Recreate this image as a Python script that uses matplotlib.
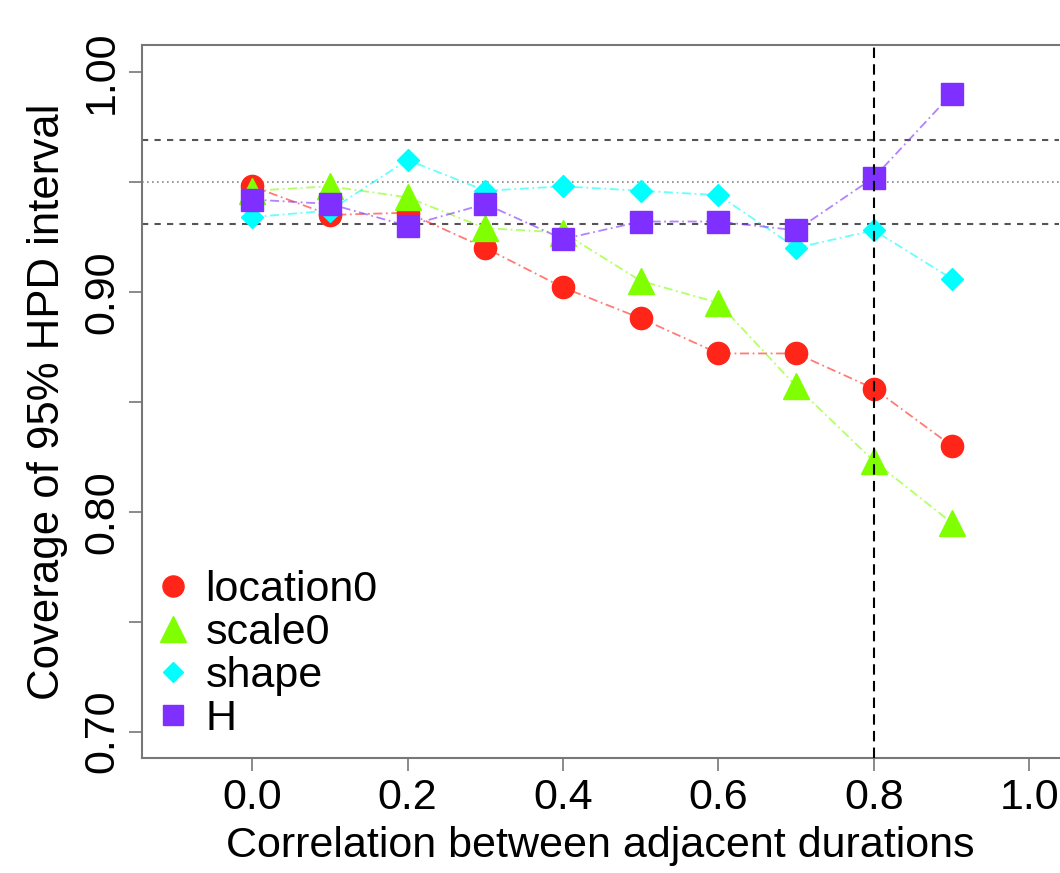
import numpy as np
import matplotlib
matplotlib.use('Agg')
from matplotlib import pyplot as plt
from matplotlib.lines import Line2D

plt.rcParams['font.family'] = ['Liberation Sans', 'DejaVu Sans']

# data
rho = [0.0, 0.1, 0.2, 0.3, 0.4, 0.5, 0.6, 0.7, 0.8, 0.9]
location0 = [0.948, 0.935, 0.936, 0.920, 0.902, 0.888, 0.872, 0.872, 0.856, 0.830]
scale0 = [0.946, 0.948, 0.943, 0.929, 0.927, 0.905, 0.895, 0.857, 0.823, 0.795]
shape = [0.934, 0.937, 0.960, 0.946, 0.948, 0.946, 0.944, 0.920, 0.928, 0.906]
H = [0.942, 0.940, 0.930, 0.940, 0.924, 0.932, 0.932, 0.928, 0.952, 0.990]

names = ['location0', 'scale0', 'shape', 'H']
cols = ['#FF2518', '#80FF00', '#00FFFF', '#7F2FFF']
marks = ['o', '^', 'D', 's']
msize = [16, 19, 11, 15.5]

nominal = 0.95
lo_band = 0.9309
hi_band = 0.9691
cut = 0.8

fig = plt.figure(figsize=(10.6, 8.73), dpi=100)
ax = fig.add_axes([0.134, 0.1317, 0.865, 0.8168])

ax.axhline(hi_band, color='#555555', ls=(0, (3, 3)), lw=1.5, zorder=1)
ax.axhline(lo_band, color='#555555', ls=(0, (3, 3)), lw=1.5, zorder=1)
ax.axhline(nominal, color='#888888', ls=(0, (1, 2)), lw=1.2, zorder=1)
ax.axvline(cut, color='black', ls=(0, (5, 3)), lw=1.5, zorder=5)

series = [location0, scale0, shape, H]
for s, c, m, ms in zip(series, cols, marks, msize):
    ax.plot(rho, s, color=c, ls=(0, (5, 2, 1, 2)), lw=1.3, alpha=0.6, zorder=2)
    ax.plot(rho, s, ls='none', marker=m, ms=ms, color=c, mec=c, zorder=3)

ax.set_xlim(-0.1415, 1.038)
ax.set_ylim(0.688, 1.0123)
ax.set_xticks([0.0, 0.2, 0.4, 0.6, 0.8, 1.0])
ax.set_xticklabels(['0.0', '0.2', '0.4', '0.6', '0.8', '1.0'])
ax.set_yticks([0.70, 0.75, 0.80, 0.85, 0.90, 0.95, 1.00])
ax.set_yticklabels(['0.70', '', '0.80', '', '0.90', '', '1.00'], rotation=90, va='center')
ax.tick_params(direction='out', length=9.5, width=1.2, color='#777777', labelsize=31, pad=5)
for sp in ax.spines.values():
    sp.set_color('#777777')
    sp.set_linewidth(1.5)
ax.spines['right'].set_visible(False)

ax.set_xlabel('Correlation between adjacent durations', fontsize=31, labelpad=6)
ax.set_ylabel('Coverage of 95% HPD interval', fontsize=31.5, labelpad=10)

handles = [Line2D([], [], ls='none', marker=m, ms=ms * 0.95, color=c, mec=c)
           for c, m, ms in zip(cols, marks, msize)]
ax.legend(handles, names, loc='upper left', bbox_to_anchor=(-0.013, 0.3), frameon=False,
          fontsize=31, handlelength=0.8, handletextpad=0.35, labelspacing=0.07,
          borderaxespad=0.2)

fig.savefig('out.png', dpi=100)
